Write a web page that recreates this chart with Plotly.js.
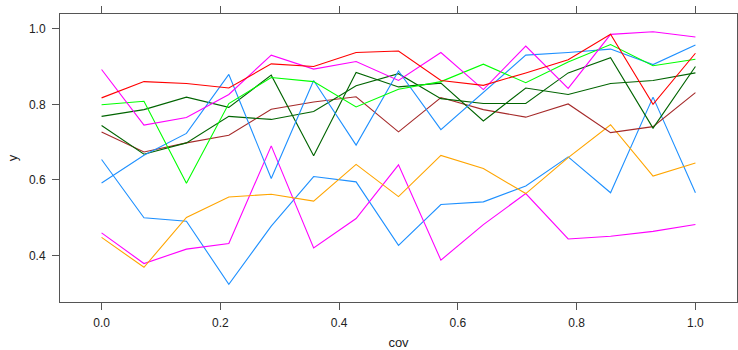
<!DOCTYPE html>
<html>
<head>
<meta charset="utf-8">
<script src="https://cdn.plot.ly/plotly-3.0.1.min.js"></script>
<style>html,body{margin:0;padding:0;background:#fff;}#chart{width:738px;height:350px;}</style>
</head>
<body>
<div id="chart"></div>
<script>
// x values (cov)
var cov = [0, 0.0714, 0.1429, 0.2143, 0.2857, 0.3571, 0.4286, 0.5, 0.5714, 0.6429, 0.7143, 0.7857, 0.8571, 0.9286, 1];

// series values (y)
var redSeries      = [0.817, 0.860, 0.855, 0.843, 0.907, 0.900, 0.937, 0.941, 0.863, 0.850, 0.883, 0.918, 0.985, 0.800, 0.935];
var magentaTop     = [0.892, 0.745, 0.765, 0.826, 0.930, 0.893, 0.913, 0.863, 0.937, 0.839, 0.954, 0.842, 0.985, 0.992, 0.978];
var limeSeries     = [0.799, 0.808, 0.591, 0.802, 0.871, 0.860, 0.793, 0.840, 0.860, 0.906, 0.857, 0.912, 0.958, 0.902, 0.919];
var darkGreenA     = [0.768, 0.786, 0.819, 0.792, 0.877, 0.664, 0.884, 0.846, 0.856, 0.756, 0.843, 0.826, 0.855, 0.863, 0.883];
var darkGreenB     = [0.744, 0.668, 0.698, 0.768, 0.760, 0.781, 0.849, 0.881, 0.815, 0.802, 0.802, 0.883, 0.923, 0.737, 0.900];
var brownSeries    = [0.727, 0.674, 0.698, 0.718, 0.787, 0.806, 0.820, 0.727, 0.818, 0.786, 0.766, 0.801, 0.725, 0.741, 0.831];
var blueUpper      = [0.592, 0.665, 0.723, 0.879, 0.604, 0.863, 0.692, 0.888, 0.733, 0.831, 0.930, 0.937, 0.946, 0.905, 0.957];
var blueLower      = [0.654, 0.500, 0.491, 0.324, 0.478, 0.609, 0.595, 0.427, 0.535, 0.542, 0.584, 0.661, 0.566, 0.819, 0.566];
var orangeSeries   = [0.448, 0.369, 0.501, 0.555, 0.562, 0.544, 0.641, 0.556, 0.665, 0.630, 0.564, 0.659, 0.746, 0.610, 0.645];
var magentaLow     = [0.460, 0.379, 0.417, 0.432, 0.690, 0.420, 0.498, 0.640, 0.388, 0.482, 0.564, 0.444, 0.451, 0.464, 0.482];

var xTickVals = [0, 0.2, 0.4, 0.6, 0.8, 1.0];
var xTickText = ["0.0", "0.2", "0.4", "0.6", "0.8", "1.0"];
var yTickVals = [0.4, 0.6, 0.8, 1.0];
var yTickText = ["0.4", "0.6", "0.8", "1.0"];

var seriesList = [
  {y: blueLower, color: "#1e90ff"},
  {y: magentaLow, color: "#ff00ff"},
  {y: orangeSeries, color: "#ffa500"},
  {y: brownSeries, color: "#a52a2a"},
  {y: darkGreenB, color: "#006400"},
  {y: darkGreenA, color: "#006400"},
  {y: blueUpper, color: "#1e90ff"},
  {y: limeSeries, color: "#00ff00"},
  {y: magentaTop, color: "#ff00ff"},
  {y: redSeries, color: "#ff0000"}
];

var traces = seriesList.map(function (s) {
  return {x: cov, y: s.y, type: "scatter", mode: "lines",
          line: {color: s.color, width: 1.1}, showlegend: false, hoverinfo: "skip"};
});

// lattice-style 7% padding of data range
function padRange(arrs, prop) {
  var all = [].concat.apply([], arrs);
  var lo = Math.min.apply(null, all), hi = Math.max.apply(null, all);
  var d = hi - lo;
  return [lo - prop * d, hi + prop * d];
}
var xr = padRange([cov], 0.07);
var yr = padRange(seriesList.map(function (s) { return s.y; }), 0.07);

var axisCommon = {
  showline: true, linecolor: "#555", linewidth: 1, mirror: "ticks",
  ticks: "outside", ticklen: 7, tickcolor: "#555", tickwidth: 1,
  showgrid: false, zeroline: false,
  tickfont: {family: "Liberation Sans, Arial, sans-serif", size: 12, color: "#222"}
};

var layout = {
  width: 738, height: 350,
  margin: {l: 60, r: 1, t: 14, b: 48},
  paper_bgcolor: "#fff", plot_bgcolor: "#fff",
  xaxis: Object.assign({}, axisCommon, {
    range: xr, tickvals: xTickVals, ticktext: xTickText, ticklabelstandoff: 3,
    title: {text: "cov", font: {family: "Liberation Sans, Arial, sans-serif", size: 13, color: "#222"}, standoff: 8}
  }),
  yaxis: Object.assign({}, axisCommon, {
    range: yr, tickvals: yTickVals, ticktext: yTickText, ticklabelstandoff: 4,
    title: {text: "y", font: {family: "Liberation Sans, Arial, sans-serif", size: 13, color: "#222"}, standoff: 8}
  })
};

Plotly.newPlot("chart", traces, layout, {displayModeBar: false, staticPlot: true});
</script>
</body>
</html>
